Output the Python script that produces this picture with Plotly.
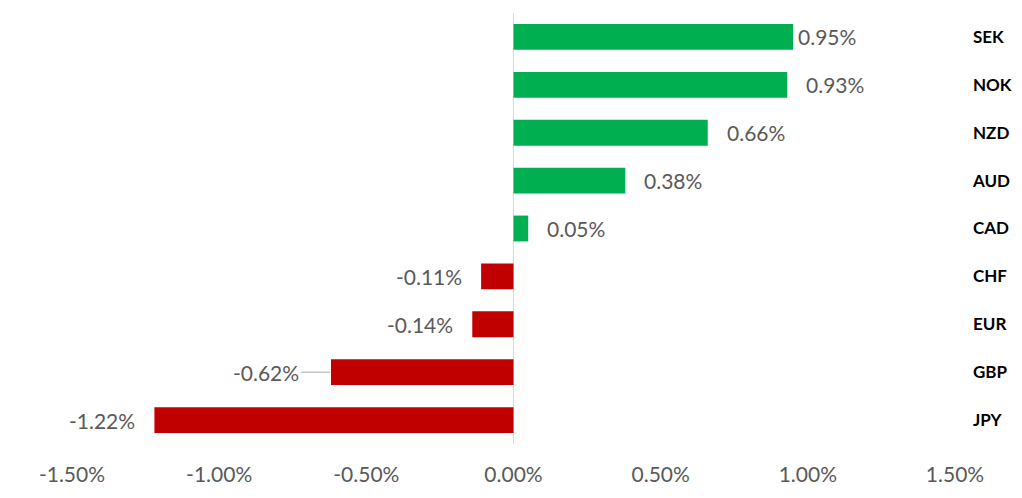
import plotly.graph_objects as go

currencies = ["SEK", "NOK", "NZD", "AUD", "CAD", "CHF", "EUR", "GBP", "JPY"]
changes = [0.95, 0.93, 0.66, 0.38, 0.05, -0.11, -0.14, -0.62, -1.22]
tick_vals = [-1.5, -1.0, -0.5, 0.0, 0.5, 1.0, 1.5]
tick_text = ["-1.50%", "-1.00%", "-0.50%", "0.00%", "0.50%", "1.00%", "1.50%"]

GREEN = "#00B050"
RED = "#C00000"
GRAY = "#595959"
FONT = "Lato"
LABEL_SIZE = 21

colors = [GREEN if v >= 0 else RED for v in changes]

fig = go.Figure(go.Bar(
    x=changes, y=currencies, orientation="h",
    marker=dict(color=colors, line=dict(width=0)),
    hoverinfo="skip",
))

gap_default = 17
gap_special = {"SEK": 3}

annotations = []
for cur, v in zip(currencies, changes):
    label = f"{v:.2f}%"
    if cur == "GBP":
        annotations.append(dict(
            x=v, y=cur, xref="x", yref="y", text=label,
            showarrow=True, arrowhead=0, arrowwidth=1, arrowcolor="#A6A6A6",
            ax=-30, ay=0, xanchor="right", standoff=1,
            font=dict(family=FONT, size=LABEL_SIZE, color=GRAY),
        ))
    else:
        g = gap_special.get(cur, gap_default)
        annotations.append(dict(
            x=v, y=cur, xref="x", yref="y", text=label, showarrow=False,
            xanchor="left" if v >= 0 else "right",
            xshift=g if v >= 0 else -g,
            font=dict(family=FONT, size=LABEL_SIZE, color=GRAY),
        ))

fig.update_layout(
    width=1014, height=490,
    margin=dict(l=64, r=67, t=5, b=54),
    paper_bgcolor="white", plot_bgcolor="white",
    showlegend=False, bargap=0.46,
    font=dict(family=FONT, color=GRAY),
    annotations=annotations,
    xaxis=dict(
        range=[-1.5, 1.5], tickvals=tick_vals, ticktext=tick_text,
        showgrid=False, zeroline=False, showline=False, ticks="",
        tickfont=dict(family=FONT, size=LABEL_SIZE, color=GRAY),
        ticklabelstandoff=16, fixedrange=True, automargin=False,
    ),
    yaxis=dict(
        categoryorder="array", categoryarray=currencies[::-1],
        side="right", showgrid=False, zeroline=False, showline=False, ticks="",
        tickfont=dict(family=FONT, size=17, color="#000000", weight="bold"),
        ticklabelstandoff=17, fixedrange=True, automargin=False,
    ),
    shapes=[dict(type="line", xref="x", yref="paper", x0=0, x1=0, y0=0, y1=1,
                 line=dict(color="#D9D9D9", width=1), layer="below")],
)

fig.write_html("out.html")
